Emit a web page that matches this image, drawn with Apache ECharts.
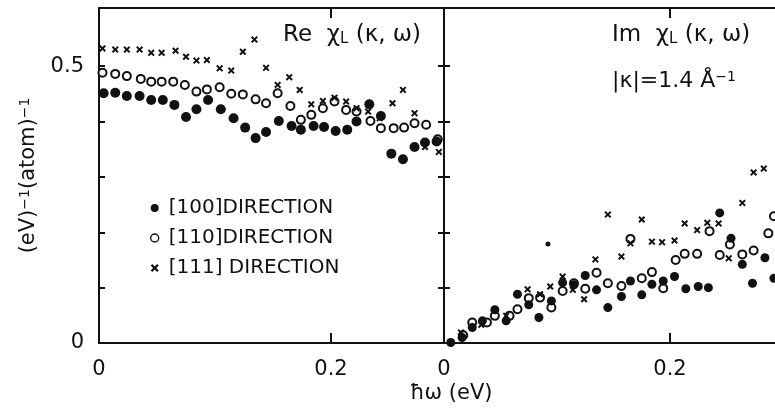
<!DOCTYPE html>
<html><head><meta charset="utf-8">
<script src="https://cdn.jsdelivr.net/npm/echarts@6/dist/echarts.min.js"></script>
<style>html,body{margin:0;padding:0;background:#fff}#c{width:775px;height:408px}</style>
</head><body><div id="c"></div>
<script>
// ---- data (x = hbar*omega in eV, y = (eV)^-1 (atom)^-1) ----
const seriesNames = ['[100]DIRECTION', '[110]DIRECTION', '[111] DIRECTION'];

const re100 = [[0.004,0.451],[0.014,0.452],[0.024,0.446],[0.035,0.446],[0.045,0.439],[0.055,0.439],[0.065,0.430],[0.075,0.408],[0.084,0.422],[0.094,0.439],[0.105,0.422],[0.116,0.406],[0.126,0.389],[0.135,0.370],[0.144,0.381],[0.155,0.401],[0.166,0.392],[0.174,0.385],[0.185,0.392],[0.194,0.390],[0.204,0.383],[0.214,0.385],[0.222,0.400],[0.233,0.431],[0.243,0.410],[0.252,0.342],[0.262,0.332],[0.272,0.354],[0.281,0.362],[0.291,0.364]];
const re110 = [[0.003,0.488],[0.014,0.486],[0.024,0.482],[0.036,0.477],[0.045,0.472],[0.054,0.472],[0.064,0.472],[0.074,0.466],[0.084,0.454],[0.093,0.458],[0.104,0.462],[0.114,0.450],[0.124,0.449],[0.135,0.440],[0.144,0.433],[0.154,0.451],[0.165,0.428],[0.174,0.403],[0.183,0.412],[0.193,0.424],[0.203,0.436],[0.213,0.421],[0.222,0.418],[0.234,0.401],[0.243,0.388],[0.254,0.388],[0.263,0.389],[0.272,0.397],[0.282,0.394],[0.292,0.368]];
const re111 = [[0.003,0.532],[0.014,0.530],[0.024,0.530],[0.035,0.530],[0.045,0.524],[0.054,0.524],[0.066,0.528],[0.075,0.517],[0.084,0.510],[0.093,0.511],[0.104,0.496],[0.114,0.492],[0.124,0.526],[0.134,0.548],[0.144,0.497],[0.154,0.466],[0.164,0.480],[0.173,0.457],[0.183,0.431],[0.193,0.437],[0.203,0.443],[0.213,0.436],[0.222,0.424],[0.232,0.418],[0.242,0.406],[0.253,0.433],[0.262,0.457],[0.272,0.415],[0.281,0.354],[0.293,0.345]];

const im100 = [[0.006,0.001],[0.016,0.010],[0.025,0.028],[0.034,0.040],[0.045,0.060],[0.055,0.040],[0.065,0.088],[0.075,0.069],[0.084,0.046],[0.095,0.076],[0.105,0.109],[0.115,0.105],[0.125,0.122],[0.135,0.096],[0.145,0.064],[0.157,0.084],[0.165,0.112],[0.175,0.087],[0.184,0.106],[0.194,0.112],[0.204,0.120],[0.214,0.098],[0.225,0.102],[0.234,0.100],[0.244,0.235],[0.254,0.189],[0.264,0.142],[0.273,0.108],[0.284,0.154],[0.292,0.117]];
const im100Small = [[0.092,0.179]];
const im110 = [[0.017,0.014],[0.025,0.037],[0.038,0.037],[0.045,0.049],[0.058,0.049],[0.065,0.061],[0.075,0.081],[0.085,0.082],[0.095,0.064],[0.105,0.094],[0.115,0.108],[0.125,0.098],[0.135,0.127],[0.145,0.108],[0.157,0.103],[0.165,0.188],[0.175,0.117],[0.184,0.128],[0.194,0.099],[0.205,0.150],[0.213,0.161],[0.224,0.161],[0.235,0.202],[0.244,0.159],[0.253,0.178],[0.264,0.160],[0.274,0.167],[0.287,0.198],[0.292,0.229]];
const im111 = [[0.015,0.019],[0.033,0.033],[0.055,0.049],[0.074,0.097],[0.085,0.088],[0.094,0.102],[0.105,0.120],[0.114,0.096],[0.124,0.079],[0.134,0.151],[0.145,0.232],[0.157,0.156],[0.165,0.180],[0.175,0.223],[0.184,0.183],[0.193,0.182],[0.204,0.185],[0.213,0.216],[0.224,0.204],[0.233,0.217],[0.243,0.216],[0.252,0.153],[0.264,0.253],[0.274,0.308],[0.283,0.315]];

const xTickLabels = [0, 0.2];
const xTickMarks = [0.2];
const yTickLabels = [0, 0.5];
const yTickMarks = [0.1, 0.2, 0.3, 0.4, 0.5];
const xMaxLeft = 0.2974, xMaxRight = 0.3, yMax = 0.605;

// ---- styling ----
const FONT = 'DejaVu Sans';
const INK = '#111';
const CROSS = 'path://M0,2L2,0L5,3L8,0L10,2L7,5L10,8L8,10L5,7L2,10L0,8L3,5Z';

const chart = echarts.init(document.getElementById('c'), null, {renderer: 'canvas'});

function xAxis(grid, pos, max, labels) {
  return {
    type: 'value', gridIndex: grid, position: pos, min: 0, max: max, interval: 0.1,
    axisLine: {show: true, onZero: false, lineStyle: {color: INK, width: 2}},
    axisTick: {show: true, inside: true, length: 10, customValues: xTickMarks, lineStyle: {color: INK, width: 2}},
    axisLabel: labels ? {show: true, customValues: xTickLabels, margin: 16, color: INK, fontFamily: FONT, fontSize: 21,
      formatter: v => (v === 0 ? '0' : String(v))} : {show: false},
    splitLine: {show: false}
  };
}
function yAxis(grid, pos, labels, extra) {
  return Object.assign({
    type: 'value', gridIndex: grid, position: pos, min: 0, max: yMax, interval: 0.1,
    axisLine: {show: true, onZero: false, lineStyle: {color: INK, width: 2}},
    axisTick: {show: true, inside: true, length: 6, customValues: yTickMarks, lineStyle: {color: INK, width: 2}},
    axisLabel: labels ? {show: true, customValues: yTickLabels, margin: 15, color: INK, fontFamily: FONT, fontSize: 21,
      formatter: v => (v === 0 ? '0' : String(v))} : {show: false},
    splitLine: {show: false}
  }, extra || {});
}

function sc(name, data, axisIdx, kind, size) {
  const s = {type: 'scatter', name: name, data: data, xAxisIndex: axisIdx, yAxisIndex: axisIdx,
    symbolSize: size, silent: true, animation: false};
  if (kind === 'filled') { s.symbol = 'circle'; s.itemStyle = {color: INK, opacity: 1}; }
  else if (kind === 'open') { s.symbol = 'circle'; s.itemStyle = {color: '#fff', borderColor: INK, borderWidth: 2, opacity: 1}; }
  else { s.symbol = CROSS; s.itemStyle = {color: INK, opacity: 1}; }
  return s;
}

const normalText = {fontFamily: FONT, color: INK, fontWeight: 'normal'};
const option = {
  backgroundColor: '#fff',
  animation: false,
  grid: [
    {left: 99, top: 8, width: 345, height: 335, containLabel: false, outerBoundsMode: 'none'},
    {left: 444, top: 8, width: 339, height: 335, containLabel: false, outerBoundsMode: 'none'}
  ],
  xAxis: [
    xAxis(0, 'bottom', xMaxLeft, true),
    xAxis(0, 'top', xMaxLeft, false),
    xAxis(1, 'bottom', xMaxRight, true),
    xAxis(1, 'top', xMaxRight, false)
  ],
  yAxis: [
    yAxis(0, 'left', true, {
      name: '(eV){sup|−1}(atom){sup|−1}', nameLocation: 'middle', nameRotate: 90, nameGap: 60,
      nameTextStyle: {color: INK, fontFamily: FONT, fontSize: 21,
        rich: {sup: {fontSize: 14, fontFamily: FONT, color: INK, verticalAlign: 'top', lineHeight: 14}}}
    }),
    yAxis(0, 'right', false),
    yAxis(1, 'left', false),
    yAxis(1, 'right', false)
  ],
  title: [
    {text: '{n|Re  χ}{s|L}{n| (κ, ω)}', left: 283, top: 24, padding: 0,
      textStyle: {fontWeight: 'normal', rich: {
        n: Object.assign({fontSize: 23, lineHeight: 23, verticalAlign: 'top'}, normalText),
        s: Object.assign({fontSize: 15, lineHeight: 15, verticalAlign: 'bottom'}, normalText)}}},
    {text: '{n|Im  χ}{s|L}{n| (κ, ω)}', left: 612, top: 24, padding: 0,
      textStyle: {fontWeight: 'normal', rich: {
        n: Object.assign({fontSize: 23, lineHeight: 23, verticalAlign: 'top'}, normalText),
        s: Object.assign({fontSize: 15, lineHeight: 15, verticalAlign: 'bottom'}, normalText)}}},
    {text: '{n||κ|=1.4 Å}{p|−1}', left: 612, top: 70, padding: 0,
      textStyle: {fontWeight: 'normal', rich: {
        n: Object.assign({fontSize: 22, lineHeight: 22, verticalAlign: 'bottom'}, normalText),
        p: Object.assign({fontSize: 14, lineHeight: 14, verticalAlign: 'top'}, normalText)}}},
    {text: 'ħω (eV)', left: 410, top: 383, padding: 0,
      textStyle: Object.assign({fontSize: 21}, normalText)}
  ],
  legend: {
    orient: 'vertical', left: 150, top: 197, padding: 0, itemWidth: 8, itemHeight: 8, itemGap: 8,
    textStyle: {fontFamily: FONT, fontSize: 20, color: INK, lineHeight: 22, padding: [0, 0, 0, 5]},
    selectedMode: false,
    data: [
      {name: seriesNames[0], icon: 'circle', itemStyle: {color: INK, opacity: 1}},
      {name: seriesNames[1], icon: 'circle', itemStyle: {color: '#fff', borderColor: INK, borderWidth: 1.4, opacity: 1}},
      {name: seriesNames[2], icon: CROSS, itemStyle: {color: INK, opacity: 1}}
    ]
  },
  series: [
    sc(seriesNames[1], re110, 0, 'open', 8),
    sc(seriesNames[2], re111, 0, 'cross', 7),
    sc(seriesNames[0], re100, 0, 'filled', 10),
    sc(seriesNames[1], im110, 2, 'open', 8),
    sc(seriesNames[2], im111, 2, 'cross', 7),
    sc(seriesNames[0], im100, 2, 'filled', 9),
    sc(seriesNames[0], im100Small, 2, 'filled', 5)
  ]
};
chart.setOption(option);
</script>
</body></html>
